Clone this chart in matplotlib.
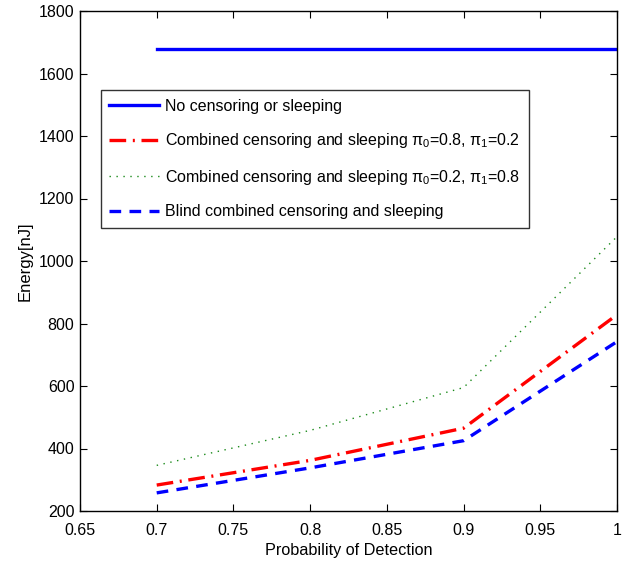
import matplotlib
matplotlib.use("Agg")
import matplotlib.pyplot as plt

plt.rcParams['font.family'] = ['Liberation Sans', 'DejaVu Sans']
plt.rcParams['mathtext.fontset'] = 'custom'
plt.rcParams['mathtext.rm'] = 'Liberation Sans'
plt.rcParams['mathtext.it'] = 'Liberation Sans'

pd_x = [0.7, 0.8, 0.9, 1.0]
no_censor = [1680, 1680, 1680, 1680]
comb_08_02 = [283, 362, 465, 828]
comb_02_08 = [346, 458, 595, 1078]
blind = [258, 338, 425, 742]

labels = ["No censoring or sleeping",
          r"Combined censoring and sleeping $\pi_0$=0.8, $\pi_1$=0.2",
          r"Combined censoring and sleeping $\pi_0$=0.2, $\pi_1$=0.8",
          "Blind combined censoring and sleeping"]

fig = plt.figure(figsize=(6.43, 5.67), dpi=100)
ax = fig.add_axes([80 / 643, 56 / 567, 537 / 643, 500 / 567])

ax.plot(pd_x, no_censor, color='#0000ff', lw=2.4, ls='-', label=labels[0])
ax.plot(pd_x, comb_08_02, color='#ff0000', lw=2.4, ls=(0, (5, 2, 0.6, 2)), label=labels[1])
ax.plot(pd_x, comb_02_08, color='#1a8a1a', lw=1.0, ls=(0, (1, 4)), label=labels[2])
ax.plot(pd_x, blind, color='#0000ff', lw=2.4, ls=(0, (3.5, 2.5)), label=labels[3])

ax.set_xlim(0.65, 1.0)
ax.set_ylim(200, 1800)
ax.set_xticks([0.65, 0.7, 0.75, 0.8, 0.85, 0.9, 0.95, 1.0])
ax.set_xticklabels(['0.65', '0.7', '0.75', '0.8', '0.85', '0.9', '0.95', '1'])
ax.set_yticks(range(200, 1801, 200))
ax.tick_params(direction='in', top=True, right=True, labelsize=11.5, length=5)
ax.tick_params(axis='x', pad=8.5)
ax.tick_params(axis='y', pad=4)
for s in ax.spines.values():
    s.set_linewidth(1.0)
ax.set_xlabel("Probability of Detection", fontsize=11.7)
ax.set_ylabel("Energy[nJ]", fontsize=12)
ax.xaxis.set_label_coords(0.5, -0.064)
ax.yaxis.set_label_coords(-0.089, 0.5)

leg = ax.legend(loc='upper left', bbox_to_anchor=(0.0385, 0.842), fontsize=11.5,
                handlelength=3.1, frameon=True, fancybox=False, edgecolor='black',
                borderpad=0.55, labelspacing=1.1, handletextpad=0.4, borderaxespad=0)
leg.get_frame().set_linewidth(1.0)

fig.savefig("out.png", dpi=100)
